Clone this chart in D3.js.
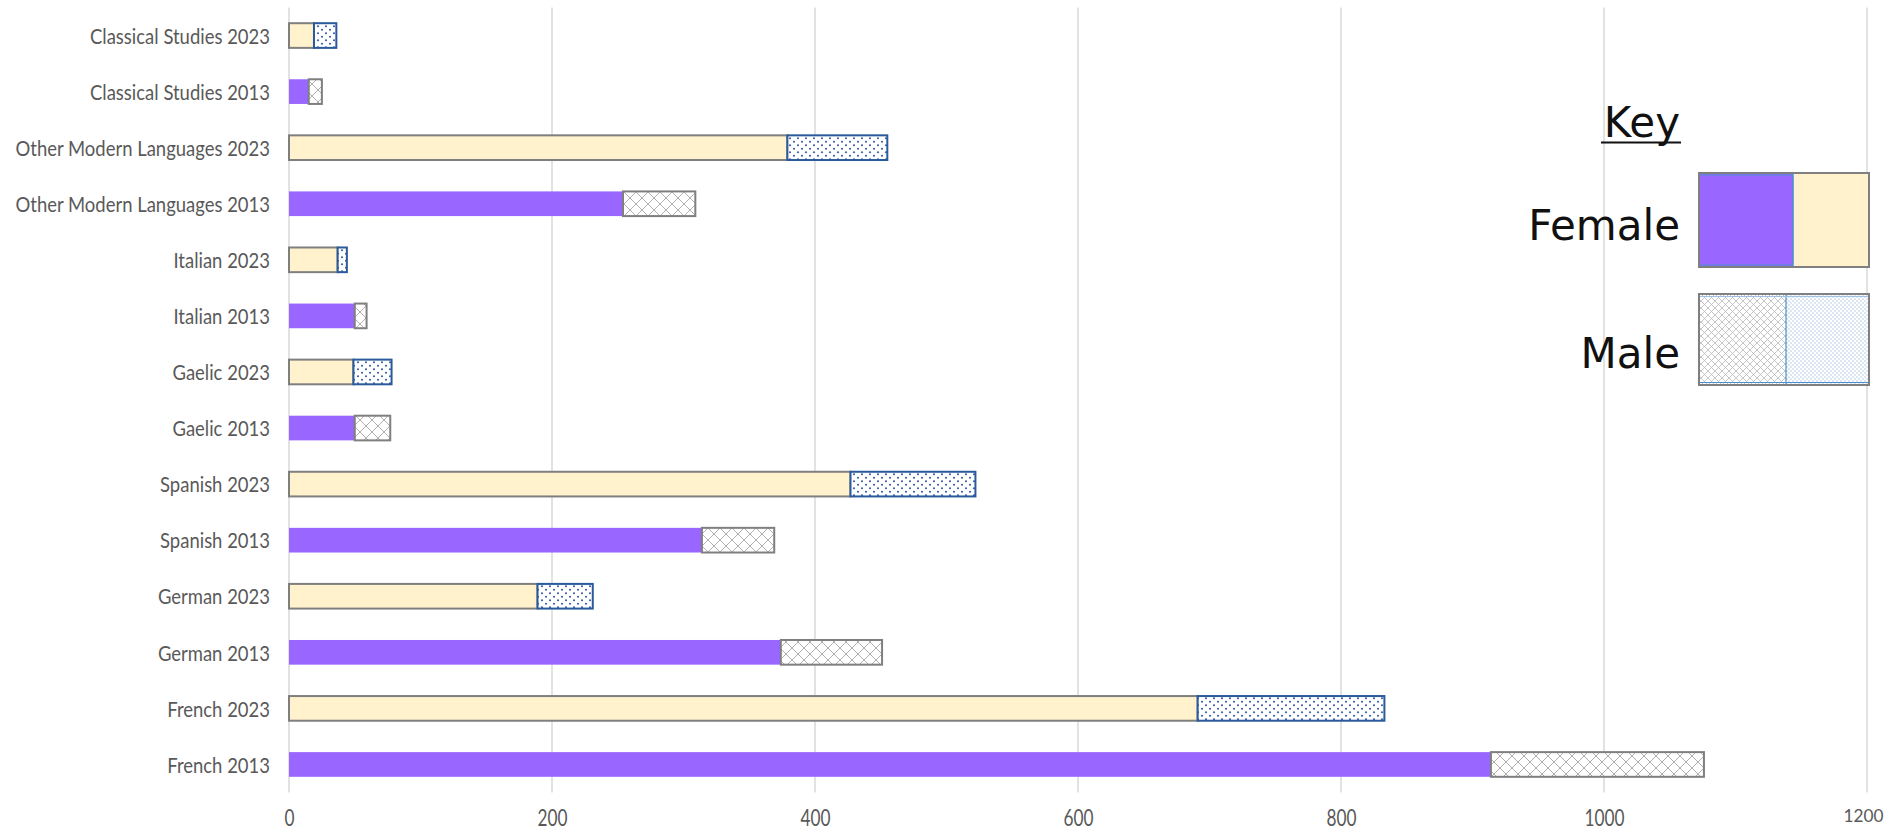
<!DOCTYPE html>
<html>
<head>
<meta charset="utf-8">
<script src="https://cdn.jsdelivr.net/npm/d3@7"></script>
<style>
  html, body { margin: 0; padding: 0; background: #fff; }
  svg { display: block; }
</style>
</head>
<body>
<svg id="chart" width="1891" height="832"></svg>
<script>
// ---- data (top to bottom as shown) ----
const categories = [
  "Classical Studies 2023", "Classical Studies 2013",
  "Other Modern Languages 2023", "Other Modern Languages 2013",
  "Italian 2023", "Italian 2013",
  "Gaelic 2023", "Gaelic 2013",
  "Spanish 2023", "Spanish 2013",
  "German 2023", "German 2013",
  "French 2023", "French 2013"
];
const years = [2023, 2013, 2023, 2013, 2023, 2013, 2023, 2013, 2023, 2013, 2023, 2013, 2023, 2013];
const femaleValues = [19, 15, 379, 254, 37, 50, 49, 50, 427, 314, 189, 374, 691, 914];
const maleValues   = [17, 10, 76, 55, 7, 9, 29, 27, 95, 55, 42, 77, 142, 162];
const xTicks = [0, 200, 400, 600, 800, 1000, 1200];
const legendLabels = ["Female", "Male"];
const legendTitle = "Key";

// ---- layout ----
const svg = d3.select("#chart");
const plot = { left: 289, right: 1867, top: 7.5, bottom: 792.5 };
const axisFont = "Lato, 'Open Sans', sans-serif";

const x = d3.scaleLinear().domain([0, 1200]).range([plot.left, plot.right]);
const y = d3.scaleBand().domain(categories).range([plot.top, plot.bottom])
  .paddingInner(0.56).paddingOuter(0.28);

// horizontal compression ratio so a sample string has a given width (Calibri-like metrics)
function fitRatio(sample, targetWidth, size) {
  const t = svg.append("text").style("font-family", axisFont).style("font-size", size + "px").text(sample);
  const w = t.node().getComputedTextLength();
  t.remove();
  return w > 0 ? Math.min(1, targetWidth / w) : 1;
}
const labelSize = 21, tickFont = 23.5;
const labelRatio = fitRatio("Classical Studies 2023", 180, labelSize);
const tickRatio = fitRatio("1000", 40, tickFont);
function compress(sel, ratio) {
  sel.each(function () {
    const w = this.getComputedTextLength();
    d3.select(this).attr("textLength", w * ratio).attr("lengthAdjust", "spacingAndGlyphs");
  });
}

// ---- patterns ----
const defs = svg.append("defs");
function crossPattern(id, size, color, sw) {
  const p = defs.append("pattern").attr("id", id).attr("patternUnits", "userSpaceOnUse")
    .attr("width", size).attr("height", size);
  p.append("rect").attr("width", size).attr("height", size).attr("fill", "#fff");
  p.append("path").attr("d", `M0,0 L${size},${size} M${size},0 L0,${size}`)
    .attr("stroke", color).attr("stroke-width", sw).attr("fill", "none");
}
function dotPattern(id, w, h, color, r) {
  const p = defs.append("pattern").attr("id", id).attr("patternUnits", "userSpaceOnUse")
    .attr("width", w).attr("height", h);
  p.append("rect").attr("width", w).attr("height", h).attr("fill", "#fff");
  p.append("circle").attr("cx", w * 0.25).attr("cy", h * 0.25).attr("r", r).attr("fill", color);
  p.append("circle").attr("cx", w * 0.75).attr("cy", h * 0.75).attr("r", r).attr("fill", color);
}
crossPattern("cross", 12, "#b0b0b0", 1);
dotPattern("dots", 8, 7, "#3b62a6", 1.1);
crossPattern("crossSmall", 7, "#b8b8b8", 0.8);
dotPattern("dotsSmall", 4, 4, "#9fb8dc", 0.7);

// ---- gridlines ----
svg.append("g")
  .selectAll("line").data(xTicks).join("line")
  .attr("x1", d => x(d)).attr("x2", d => x(d))
  .attr("y1", plot.top).attr("y2", plot.bottom)
  .attr("stroke", "#d9d9d9").attr("stroke-width", 1.5);

// ---- x axis labels ----
const xAxis = svg.append("g")
  .attr("transform", `translate(0,${plot.bottom})`)
  .call(d3.axisBottom(x).tickValues(xTicks).tickSize(0).tickPadding(17).tickFormat(d3.format("d")));
xAxis.select(".domain").remove();
const lastTick = xTicks[xTicks.length - 1];
xAxis.selectAll("text")
  .attr("fill", "#595959")
  .style("font-family", axisFont)
  .style("font-size", tickFont + "px");
xAxis.selectAll(".tick").filter(d => d !== lastTick).select("text").call(compress, tickRatio);
// last label: plain text (no squeezing) sized to the same width, kept inside the canvas edge
xAxis.selectAll(".tick").filter(d => d === lastTick).select("text")
  .style("font-size", (tickFont * tickRatio) + "px")
  .attr("x", -4);

// ---- y axis labels ----
const yAxis = svg.append("g")
  .attr("transform", `translate(${plot.left - 19},1.5)`)
  .call(d3.axisLeft(y).tickSize(0).tickPadding(0));
yAxis.select(".domain").remove();
yAxis.selectAll("text")
  .attr("fill", "#595959")
  .style("font-family", axisFont)
  .style("font-size", labelSize + "px")
  .call(compress, labelRatio);

// ---- bars ----
const rows = categories.map((c, i) => ({ c, year: years[i], f: femaleValues[i], m: maleValues[i] }));
const bars = svg.append("g");

bars.selectAll("rect.female").data(rows).join("rect")
  .attr("class", "female")
  .attr("x", x(0))
  .attr("y", d => y(d.c))
  .attr("width", d => x(d.f) - x(0))
  .attr("height", y.bandwidth())
  .attr("fill", d => d.year === 2013 ? "#9966ff" : "#fff2cc")
  .attr("stroke", d => d.year === 2013 ? "none" : "#7f7f7f")
  .attr("stroke-width", 2);

bars.selectAll("rect.male").data(rows).join("rect")
  .attr("class", "male")
  .attr("x", d => x(d.f))
  .attr("y", d => y(d.c))
  .attr("width", d => x(d.f + d.m) - x(d.f))
  .attr("height", y.bandwidth())
  .attr("fill", d => d.year === 2013 ? "url(#cross)" : "url(#dots)")
  .attr("stroke", d => d.year === 2013 ? "#7f7f7f" : "#2a5a9c")
  .attr("stroke-width", 2);

// ---- legend ----
const lg = svg.append("g");
const lgFont = "'DejaVu Sans', sans-serif";
lg.append("text").attr("x", 1680).attr("y", 137).attr("text-anchor", "end")
  .style("font-family", lgFont).style("font-size", "42px").attr("fill", "#111")
  .text(legendTitle);
lg.append("line").attr("x1", 1601).attr("x2", 1681).attr("y1", 142.5).attr("y2", 142.5)
  .attr("stroke", "#111").attr("stroke-width", 1.8);

lg.append("text").attr("x", 1680).attr("y", 240).attr("text-anchor", "end")
  .style("font-family", lgFont).style("font-size", "42px").attr("fill", "#111")
  .text(legendLabels[0]);
lg.append("text").attr("x", 1680).attr("y", 368).attr("text-anchor", "end")
  .style("font-family", lgFont).style("font-size", "42px").attr("fill", "#111")
  .text(legendLabels[1]);

// female swatch
lg.append("rect").attr("x", 1699).attr("y", 173).attr("width", 94).attr("height", 94).attr("fill", "#9966ff");
lg.append("rect").attr("x", 1793).attr("y", 173).attr("width", 76).attr("height", 94).attr("fill", "#fff2cc");
lg.append("line").attr("x1", 1793).attr("x2", 1793).attr("y1", 174).attr("y2", 266)
  .attr("stroke", "#4a8fd0").attr("stroke-width", 1.2);
lg.append("rect").attr("x", 1699).attr("y", 175).attr("width", 94).attr("height", 90)
  .attr("fill", "none").attr("stroke", "#4a8fd0").attr("stroke-width", 1);
lg.append("rect").attr("x", 1699).attr("y", 173).attr("width", 170).attr("height", 94)
  .attr("fill", "none").attr("stroke", "#7f7f7f").attr("stroke-width", 2);

// male swatch
lg.append("rect").attr("x", 1699).attr("y", 294).attr("width", 87).attr("height", 91).attr("fill", "url(#crossSmall)");
lg.append("rect").attr("x", 1786).attr("y", 294).attr("width", 83).attr("height", 91).attr("fill", "url(#dotsSmall)");
lg.append("line").attr("x1", 1786).attr("x2", 1786).attr("y1", 295).attr("y2", 384)
  .attr("stroke", "#4a8fd0").attr("stroke-width", 1.2);
lg.append("line").attr("x1", 1699).attr("x2", 1869).attr("y1", 296.5).attr("y2", 296.5)
  .attr("stroke", "#9fc0e6").attr("stroke-width", 1);
lg.append("line").attr("x1", 1699).attr("x2", 1869).attr("y1", 382.5).attr("y2", 382.5)
  .attr("stroke", "#4a8fd0").attr("stroke-width", 1);
lg.append("rect").attr("x", 1699).attr("y", 294).attr("width", 170).attr("height", 91)
  .attr("fill", "none").attr("stroke", "#7f7f7f").attr("stroke-width", 2);
</script>
</body>
</html>
